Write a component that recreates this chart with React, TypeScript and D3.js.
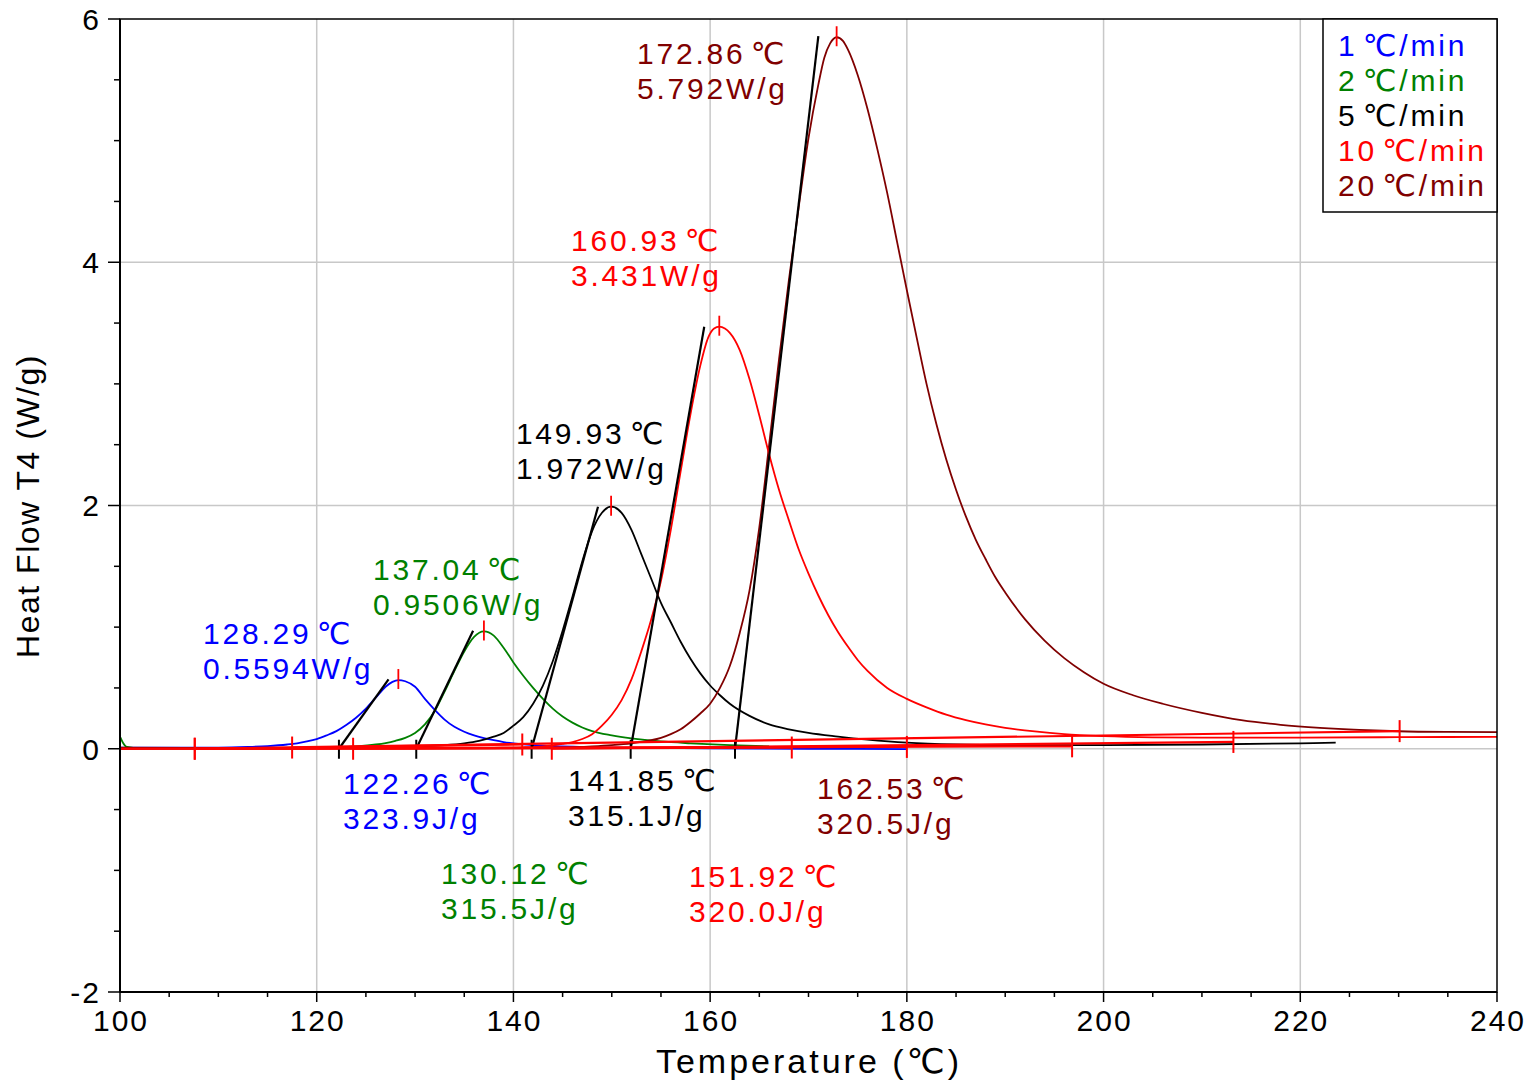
import React, { useEffect, useRef } from "react";
import * as d3 from "d3";

// heating rates and their colours
const rates = ["1\u200A℃/min", "2\u200A℃/min", "5\u200A℃/min", "10\u200A℃/min", "20\u200A℃/min"];
const colors = ["#0000ff", "#008000", "#000000", "#ff0000", "#800000"];

// heat flow curves, [temperature ℃, W/g]
const rate1 = [
  [100, 0.01], [105, 0.01], [110, 0.01], [113, 0.015], [115, 0.022], [117, 0.035], [118, 0.045],
  [119, 0.06], [120, 0.08], [121, 0.11], [122, 0.145], [123, 0.195], [124, 0.255], [125, 0.33],
  [126, 0.42], [127, 0.51], [127.7, 0.55], [128.3, 0.565], [129, 0.555], [130, 0.51], [131, 0.41],
  [132, 0.32], [133, 0.24], [134, 0.18], [135, 0.14], [136, 0.11], [137, 0.088], [138, 0.07],
  [139, 0.055], [140, 0.045], [142, 0.03], [145, 0.02], [150, 0.01], [160, 0.003], [170, 0.0], [180, -0.003],
];
const rate2 = [
  [100, 0.1], [100.3, 0.05], [100.7, 0.015], [102, 0.005], [110, 0.004], [118, 0.006], [122, 0.012],
  [124, 0.02], [126, 0.035], [127, 0.047], [128, 0.065], [129, 0.09], [130, 0.13], [131, 0.2],
  [132, 0.31], [133, 0.47], [134, 0.64], [135, 0.8], [136, 0.92], [137, 0.965], [138, 0.93],
  [139, 0.83], [140, 0.71], [141, 0.6], [142, 0.5], [143, 0.41], [144, 0.33], [145, 0.265],
  [146, 0.215], [147, 0.175], [148, 0.145], [150, 0.11], [152, 0.085], [155, 0.06], [158, 0.045],
  [162, 0.03], [166, 0.02],
];
const rate5 = [
  [100, 0.0], [110, 0.002], [120, 0.005], [126, 0.01], [130, 0.02], [133, 0.03], [135, 0.045],
  [136.5, 0.065], [138, 0.1], [139, 0.13], [140, 0.19], [141, 0.26], [142, 0.37], [143, 0.52],
  [144, 0.72], [145, 0.97], [146, 1.25], [147, 1.54], [148, 1.79], [149, 1.94], [149.93, 1.99],
  [151, 1.94], [152, 1.8], [153, 1.6], [154, 1.4], [155, 1.2], [156, 1.04], [157, 0.88], [158, 0.74],
  [159, 0.62], [160, 0.52], [161, 0.44], [162, 0.37], [164, 0.27], [166, 0.2], [168, 0.16],
  [170, 0.13], [173, 0.1], [176, 0.075], [180, 0.05], [185, 0.035], [190, 0.03], [200, 0.03],
  [210, 0.035], [220, 0.045], [223.6, 0.05],
];
const rate10 = [
  [100, 0.0], [120, 0.0], [130, 0.003], [138, 0.008], [141, 0.012], [143, 0.02], [145, 0.04],
  [146, 0.055], [147, 0.08], [148, 0.12], [149, 0.19], [150, 0.28], [151, 0.4], [152, 0.57],
  [153, 0.8], [154, 1.06], [155, 1.38], [156, 1.8], [157, 2.28], [158, 2.75], [159, 3.15],
  [159.8, 3.38], [160.4, 3.455], [160.93, 3.47], [161.5, 3.455], [162, 3.42], [163, 3.28],
  [164, 3.04], [165, 2.74], [166, 2.42], [167, 2.13], [168, 1.88], [169, 1.64], [170, 1.44],
  [171, 1.26], [172, 1.1], [173, 0.96], [174, 0.84], [175, 0.73], [176, 0.64], [178, 0.5],
  [180, 0.41], [182, 0.34], [184, 0.28], [186, 0.235], [188, 0.2], [190, 0.172], [193, 0.142],
  [196, 0.12], [200, 0.104], [205, 0.094], [210, 0.091], [220, 0.092], [230, 0.095], [240, 0.098],
];
const rate20 = [
  [100, 0.01], [110, 0.005], [120, 0.003], [130, 0.003], [140, 0.005], [145, 0.01], [148, 0.02],
  [150, 0.03], [152, 0.045], [154, 0.07], [155, 0.09], [156, 0.12], [157, 0.16], [158, 0.22],
  [159, 0.29], [160, 0.37], [161, 0.5], [162, 0.68], [163, 0.95], [164, 1.3], [165, 1.82],
  [166, 2.5], [167, 3.2], [168, 3.85], [169, 4.45], [170, 5.02], [171, 5.46], [171.6, 5.68],
  [172.2, 5.8], [172.86, 5.85], [173.5, 5.82], [174, 5.75], [175, 5.54], [176, 5.26],
  [177, 4.93], [178, 4.57], [179, 4.17], [180, 3.77], [181, 3.38], [182, 3.0], [183, 2.67],
  [184, 2.38], [185, 2.13], [186, 1.91], [187, 1.72], [188, 1.56], [189, 1.41], [190, 1.285],
  [192, 1.066], [194, 0.889], [196, 0.745], [198, 0.629], [200, 0.534], [203, 0.44], [206, 0.37],
  [210, 0.295], [214, 0.235], [218, 0.197], [222, 0.172], [226, 0.155], [230, 0.144], [235, 0.138],
  [240, 0.136],
];
const series = [rate1, rate2, rate5, rate10, rate20];

// analysis results
const peakT = [128.29, 137.04, 149.93, 160.93, 172.86];
const peakW = [0.5594, 0.9506, 1.972, 3.431, 5.792];
const onsetT = [122.26, 130.12, 141.85, 151.92, 162.53];
const enthalpy = [323.9, 315.5, 315.1, 320.0, 320.5];
// top end of each onset tangent
const tangentEndT = [127.3, 135.9, 148.6, 159.4, 171.0];
const tangentEndW = [0.57, 0.97, 1.99, 3.47, 5.86];
// integration baselines: start T, start W, end T, end W
const baselines = [
  [117.5, 0.01, 140.9, 0.035],
  [123.7, 0.0, 168.3, 0.01],
  [107.6, 0.0, 196.8, 0.02],
  [143.9, 0.0, 213.2, 0.056],
  [107.6, 0.0, 230.1, 0.145],
  [100.0, 0.0, 180.0, 0.015],
];
// where the labels sit, in data units
const peakLabelT = [108.44, 125.72, 140.25, 145.85, 152.56];
const peakLabelW = [0.859, 1.385, 2.503, 4.09, 5.628];
const onsetLabelT = [122.67, 132.64, 145.55, 157.85, 170.86];
const onsetLabelW = [-0.374, -1.114, -0.35, -1.138, -0.415];

const xTicks = [100, 120, 140, 160, 180, 200, 220, 240];
const yTicks = [-2, 0, 2, 4, 6];

const FONT = "'Liberation Sans', Arial, 'DejaVu Sans', sans-serif";

export default function App() {
  const ref = useRef<SVGSVGElement>(null);

  useEffect(() => {
    const svg = d3.select(ref.current);
    svg.selectAll("*").remove();

    const x = d3.scaleLinear().domain([100, 240]).range([120, 1497]);
    const y = d3.scaleLinear().domain([-2, 6]).range([992, 19]);
    const [x0, x1] = x.range();
    const [y0, y1] = y.range();

    // grid
    const grid = svg.append("g").attr("stroke", "#c8c8c8").attr("stroke-width", 1.5);
    xTicks.slice(1, -1).forEach(t =>
      grid.append("line").attr("x1", x(t)).attr("x2", x(t)).attr("y1", y1).attr("y2", y0));
    yTicks.slice(1, -1).forEach(t =>
      grid.append("line").attr("x1", x0).attr("x2", x1).attr("y1", y(t)).attr("y2", y(t)));

    const line = d3.line<number[]>()
      .x(d => x(d[0]))
      .y(d => y(d[1]))
      .curve(d3.curveMonotoneX);

    const plot = svg.append("g");
    // curves: dark red before red so the red one sits on top
    [0, 1, 2, 4, 3].forEach(i => {
      plot.append("path")
        .attr("d", line(series[i]))
        .attr("fill", "none")
        .attr("stroke", colors[i])
        .attr("stroke-width", 1.8);
    });

    // onset tangents
    onsetT.forEach((t, i) => {
      plot.append("line")
        .attr("x1", x(t)).attr("y1", y(0))
        .attr("x2", x(tangentEndT[i])).attr("y2", y(tangentEndW[i]))
        .attr("stroke", "#000").attr("stroke-width", 2.2);
      plot.append("line")
        .attr("x1", x(t)).attr("x2", x(t))
        .attr("y1", y(0) - 9).attr("y2", y(0) + 10)
        .attr("stroke", "#000").attr("stroke-width", 2);
    });

    // integration baselines with end marks
    baselines.forEach(b => {
      plot.append("line")
        .attr("x1", x(b[0])).attr("y1", y(b[1]))
        .attr("x2", x(b[2])).attr("y2", y(b[3]))
        .attr("stroke", "#ff0000").attr("stroke-width", 2.2);
      [[b[0], b[1]], [b[2], b[3]]].forEach(p => {
        if (p[0] <= 100) return;
        plot.append("line")
          .attr("x1", x(p[0])).attr("x2", x(p[0]))
          .attr("y1", y(p[1]) - 11).attr("y2", y(p[1]) + 11)
          .attr("stroke", "#ff0000").attr("stroke-width", 2);
      });
    });

    // peak marks
    series.forEach(s => {
      const top = s.reduce((a, b) => (b[1] > a[1] ? b : a));
      plot.append("line")
        .attr("x1", x(top[0])).attr("x2", x(top[0]))
        .attr("y1", y(top[1]) - 11).attr("y2", y(top[1]) + 9)
        .attr("stroke", "#ff0000").attr("stroke-width", 1.8);
    });

    // labels
    const labels = svg.append("g")
      .attr("font-family", FONT).attr("font-size", 30).attr("letter-spacing", 2.8);
    peakT.forEach((t, i) => {
      const tx = labels.append("text").attr("fill", colors[i])
        .attr("x", x(peakLabelT[i])).attr("y", y(peakLabelW[i]));
      tx.append("tspan").text(t.toFixed(2) + "\u200A℃");
      tx.append("tspan").attr("x", x(peakLabelT[i])).attr("dy", 35).text(peakW[i] + "W/g");
    });
    onsetT.forEach((t, i) => {
      const tx = labels.append("text").attr("fill", colors[i])
        .attr("x", x(onsetLabelT[i])).attr("y", y(onsetLabelW[i]));
      tx.append("tspan").text(t.toFixed(2) + "\u200A℃");
      tx.append("tspan").attr("x", x(onsetLabelT[i])).attr("dy", 35).text(enthalpy[i].toFixed(1) + "J/g");
    });

    // frame
    svg.append("rect")
      .attr("x", x0).attr("y", y1).attr("width", x1 - x0).attr("height", y0 - y1)
      .attr("fill", "none").attr("stroke", "#000").attr("stroke-width", 1.5);
    svg.append("line").attr("x1", x0).attr("x2", x0).attr("y1", y1).attr("y2", y0)
      .attr("stroke", "#000").attr("stroke-width", 2);
    svg.append("line").attr("x1", x0).attr("x2", x1).attr("y1", y0).attr("y2", y0)
      .attr("stroke", "#000").attr("stroke-width", 2);

    // ticks
    const ticks = svg.append("g").attr("stroke", "#000").attr("stroke-width", 1.5);
    d3.range(-2, 6.01, 0.5).forEach(v => {
      const major = yTicks.includes(v);
      ticks.append("line").attr("x1", x0 - (major ? 12 : 6)).attr("x2", x0)
        .attr("y1", y(v)).attr("y2", y(v));
    });
    d3.range(100, 240.01, 5).forEach(t => {
      const major = xTicks.includes(t);
      ticks.append("line").attr("x1", x(t)).attr("x2", x(t))
        .attr("y1", y0).attr("y2", y0 + (major ? 10 : 5));
    });

    const tickText = svg.append("g").attr("font-family", FONT).attr("font-size", 30)
      .attr("letter-spacing", 2).attr("fill", "#000");
    yTicks.forEach(v => {
      tickText.append("text").attr("x", 101).attr("y", y(v)).attr("dy", "0.36em")
        .attr("text-anchor", "end").text(v);
    });
    xTicks.forEach(t => {
      tickText.append("text").attr("x", x(t) + 1).attr("y", 1031)
        .attr("text-anchor", "middle").text(t);
    });

    // axis titles
    svg.append("text").attr("x", 809).attr("y", 1073).attr("text-anchor", "middle")
      .attr("font-family", FONT).attr("font-size", 34).attr("letter-spacing", 3)
      .text("Temperature (℃)");
    svg.append("text").attr("transform", "translate(39,506) rotate(-90)")
      .attr("text-anchor", "middle")
      .attr("font-family", FONT).attr("font-size", 32).attr("letter-spacing", 1.5)
      .text("Heat Flow T4 (W/g)");

    // legend
    const legend = svg.append("g");
    legend.append("rect").attr("x", 1323).attr("y", y1).attr("width", x1 - 1323).attr("height", 193)
      .attr("fill", "#fff").attr("stroke", "#000").attr("stroke-width", 1.5);
    rates.forEach((r, i) => {
      legend.append("text").attr("x", 1338).attr("y", 56 + i * 35)
        .attr("font-family", FONT).attr("font-size", 30).attr("letter-spacing", 2.8)
        .attr("fill", colors[i]).text(r);
    });
  }, []);

  return (
    <svg ref={ref} width={1533} height={1086}
      style={{ position: "absolute", left: 0, top: 0, background: "#fff" }} />
  );
}
